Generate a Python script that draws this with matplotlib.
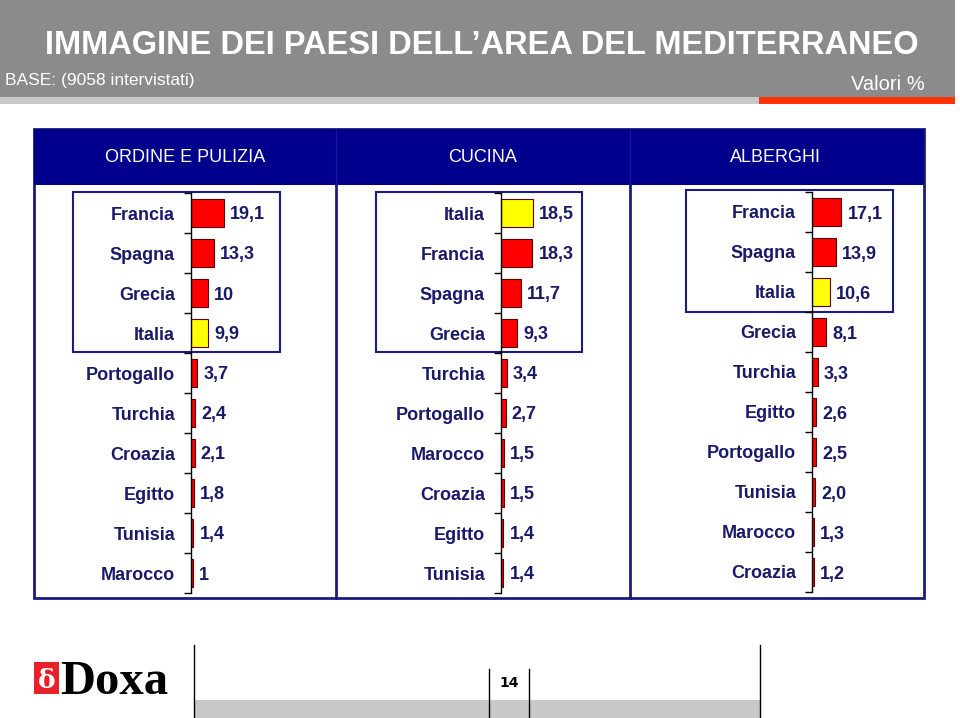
import matplotlib
matplotlib.use("Agg")
import matplotlib.pyplot as plt
from matplotlib.patches import Rectangle

# ---------------- DATI ---------------- #
titles = ["ORDINE E PULIZIA", "CUCINA", "ALBERGHI"]

pulizia_paesi = ["Francia", "Spagna", "Grecia", "Italia", "Portogallo",
                 "Turchia", "Croazia", "Egitto", "Tunisia", "Marocco"]
pulizia_val = [19.1, 13.3, 10, 9.9, 3.7, 2.4, 2.1, 1.8, 1.4, 1]
pulizia_txt = ["19,1", "13,3", "10", "9,9", "3,7", "2,4", "2,1", "1,8", "1,4", "1"]

cucina_paesi = ["Italia", "Francia", "Spagna", "Grecia", "Turchia",
                "Portogallo", "Marocco", "Croazia", "Egitto", "Tunisia"]
cucina_val = [18.5, 18.3, 11.7, 9.3, 3.4, 2.7, 1.5, 1.5, 1.4, 1.4]
cucina_txt = ["18,5", "18,3", "11,7", "9,3", "3,4", "2,7", "1,5", "1,5", "1,4", "1,4"]

alberghi_paesi = ["Francia", "Spagna", "Italia", "Grecia", "Turchia",
                  "Egitto", "Portogallo", "Tunisia", "Marocco", "Croazia"]
alberghi_val = [17.1, 13.9, 10.6, 8.1, 3.3, 2.6, 2.5, 2.0, 1.3, 1.2]
alberghi_txt = ["17,1", "13,9", "10,6", "8,1", "3,3", "2,6", "2,5", "2,0", "1,3", "1,2"]

NAVY = "#00008c"
TXT = "#1a1a6a"
W, H = 960, 718

fig = plt.figure(figsize=(9.6, 7.18), dpi=100)
bg = fig.add_axes([0, 0, 1, 1])
bg.set_xlim(0, W)
bg.set_ylim(H, 0)
bg.axis("off")

def rect(x0, y0, x1, y1, **kw):
    bg.add_patch(Rectangle((x0, y0), x1 - x0, y1 - y0, **kw))

# Intestazione grigia
rect(0, 0, 955, 97, facecolor="#8b8b8b", edgecolor="none")
rect(0, 97, 759, 104, facecolor="#c8c8c8", edgecolor="none")
rect(759, 97, 955, 104, facecolor="#ff3300", edgecolor="none")
bg.text(45, 46, "IMMAGINE DEI PAESI DELL\u2019AREA DEL MEDITERRANEO", color="white",
        fontsize=23.5, fontweight="bold", family="Liberation Sans", va="center", ha="left")
bg.text(5, 81, "BASE: (9058 intervistati)", color="white", fontsize=12.5,
        family="Liberation Sans", va="center", ha="left")
bg.text(925, 85, "Valori %", color="white", fontsize=14.5,
        family="Liberation Sans", va="center", ha="right")

# Pannello principale
rect(34, 129, 924, 598, facecolor="white", edgecolor="#1c1c80", linewidth=2)
rect(34, 129, 924, 185, facecolor=NAVY, edgecolor="none")
for xd in [336, 630]:
    bg.plot([xd, xd], [129, 185], color="#1515a0", linewidth=1)
    bg.plot([xd, xd], [185, 598], color="#1c1c80", linewidth=2)
for xc, t in zip([185, 483, 775], titles):
    bg.text(xc, 157, t, color="white", fontsize=13, family="Liberation Sans",
            ha="center", va="center")

# Riquadri dei primi paesi
boxes = [(73, 192, 280, 352), (376, 192, 582, 352), (686, 190, 893, 312)]
for (x0, y0, x1, y1) in boxes:
    rect(x0, y0, x1, y1, facecolor="none", edgecolor="#1c1c80", linewidth=1.5)

# Grafici a barre
cols = [(pulizia_paesi, pulizia_val, pulizia_txt, 191, 193),
        (cucina_paesi, cucina_val, cucina_txt, 501, 193),
        (alberghi_paesi, alberghi_val, alberghi_txt, 812, 192)]
px_per_unit = 1.72
ax_w = 110
for paesi, vals, txts, x0, y0 in cols:
    ax = fig.add_axes([x0 / W, 1 - (y0 + 400) / H, ax_w / W, 400 / H])
    ax.set_facecolor("none")
    colors = ["#ffff00" if p == "Italia" else "#ff0000" for p in paesi]
    pos = list(range(len(paesi)))
    ax.barh(pos, vals, height=0.68, color=colors, edgecolor="#5a0000", linewidth=0.8)
    ax.set_xlim(0, ax_w / px_per_unit)
    ax.set_ylim(len(paesi) - 0.5, -0.5)
    for s in ["top", "right", "bottom"]:
        ax.spines[s].set_visible(False)
    ax.spines["left"].set_color("black")
    ax.spines["left"].set_linewidth(1)
    ax.set_xticks([])
    ax.set_yticks(pos)
    ax.set_yticklabels(paesi, fontsize=13, fontweight="bold", color=TXT,
                       family="Liberation Sans")
    ax.tick_params(axis="y", which="major", length=0, pad=11.5)
    ax.set_yticks([p - 0.5 for p in range(len(paesi) + 1)], minor=True)
    ax.tick_params(axis="y", which="minor", length=5, width=1, color="black")
    for i, v in enumerate(vals):
        ax.annotate(txts[i], (v, i), xytext=(4.3, 0), textcoords="offset points",
                    va="center_baseline", ha="left", fontsize=13, fontweight="bold",
                    color=TXT, family="Liberation Sans")

# Piè di pagina
rect(194, 700, 760, 718, facecolor="#c8c8c8", edgecolor="none")
for xl, yt in [(194, 645), (760, 645), (489, 669), (529, 669)]:
    bg.plot([xl, xl], [yt, 718], color="black", linewidth=1)
bg.text(509, 683, "14", fontsize=10, fontweight="bold", family="Liberation Sans Narrow",
        ha="center", va="center", color="black")

# Logo Doxa
rect(34, 662, 59, 694, facecolor="#e8202a", edgecolor="none")
bg.text(46.5, 680, "\u03b4", color="white", fontsize=19, fontweight="bold",
        family="DejaVu Serif", ha="center", va="center")
bg.text(60, 694, "Doxa", color="black", fontsize=35, fontweight="bold",
        family="Liberation Serif", ha="left", va="baseline")

fig.savefig("out.png", dpi=100)
